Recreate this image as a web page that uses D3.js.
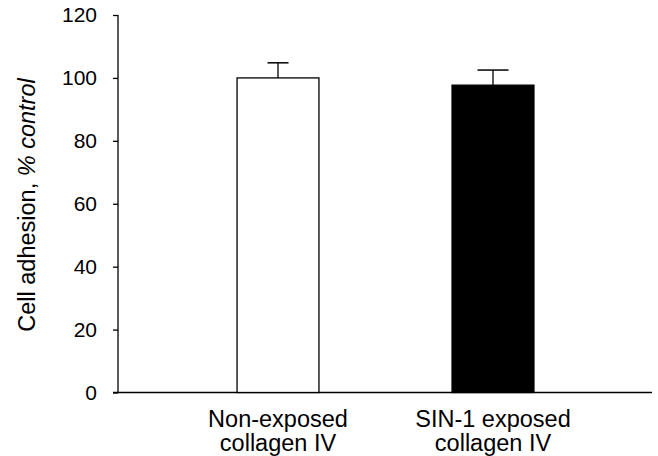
<!DOCTYPE html>
<html><head><meta charset="utf-8">
<script src="https://cdn.jsdelivr.net/npm/d3@7"></script>
<style>
html,body{margin:0;padding:0;background:#fff;}
text{font-family:"Liberation Sans",Arial,Helvetica,sans-serif;fill:#000;}
</style></head>
<body>
<svg id="chart" width="658" height="456"></svg>
<script>
const categories = [["Non-exposed","collagen IV"],["SIN-1 exposed","collagen IV"]];
const values = [100, 97.7];
const errors = [4.8, 4.8];
const yTicks = [0,20,40,60,80,100,120];

const svg = d3.select("#chart");
const y = d3.scaleLinear().domain([0,120]).range([392.5,15]);
const x = d3.scaleBand().domain(d3.range(categories.length)).range([170.5,600.5]).paddingInner(0.619).paddingOuter(0.3095);
const capHalf = [10.5, 15.5];
const axisX = 118;

// y axis
const yAxis = d3.axisLeft(y).tickValues(yTicks).tickSize(5).tickPadding(16).tickSizeOuter(0);
const gy = svg.append("g").attr("transform",`translate(${axisX},0)`).call(yAxis);
gy.select(".domain").attr("stroke","#000").attr("stroke-width",1.3).attr("d",`M0,${y(120)}V${y(0)}`);
gy.selectAll(".tick line").attr("stroke","#000").attr("stroke-width",1.3);
gy.selectAll(".tick text").attr("font-size",21).attr("font-family","Liberation Sans, Arial, sans-serif").attr("fill","#000");

// x axis line
svg.append("line").attr("x1",axisX-5).attr("x2",652).attr("y1",y(0)).attr("y2",y(0)).attr("stroke","#000").attr("stroke-width",1.3);

// error bars (behind bars)
const idx = d3.range(values.length);
svg.selectAll(".err").data(idx).join("line").attr("class","err")
  .attr("x1",i=>x(i)+x.bandwidth()/2).attr("x2",i=>x(i)+x.bandwidth()/2)
  .attr("y1",i=>y(values[i])).attr("y2",i=>y(values[i]+errors[i]))
  .attr("stroke","#000").attr("stroke-width",1.3);
svg.selectAll(".cap").data(idx).join("line").attr("class","cap")
  .attr("x1",i=>x(i)+x.bandwidth()/2-capHalf[i]).attr("x2",i=>x(i)+x.bandwidth()/2+capHalf[i])
  .attr("y1",i=>y(values[i]+errors[i])).attr("y2",i=>y(values[i]+errors[i]))
  .attr("stroke","#000").attr("stroke-width",1.5);

// bars
const fills = ["#fff","#000"];
svg.selectAll(".bar").data(idx).join("rect").attr("class","bar")
  .attr("x",i=>x(i)).attr("width",x.bandwidth())
  .attr("y",i=>y(values[i])).attr("height",i=>y(0)-y(values[i]))
  .attr("fill",i=>fills[i]).attr("stroke","#000").attr("stroke-width",1.3);

// x labels
idx.forEach(i=>{
  const t = svg.append("text").attr("text-anchor","middle").attr("font-size",23.5)
    .attr("x",x(i)+x.bandwidth()/2);
  categories[i].forEach((ln,k)=>{
    t.append("tspan").attr("x",x(i)+x.bandwidth()/2).attr("y",427+k*24).text(ln);
  });
});

// y label
const yl = svg.append("text").attr("text-anchor","middle").attr("font-size",23.5)
  .attr("transform","translate(35,205) rotate(-90)");
yl.append("tspan").text("Cell adhesion, ");
yl.append("tspan").attr("font-style","italic").text("% control");
</script>
</body></html>
